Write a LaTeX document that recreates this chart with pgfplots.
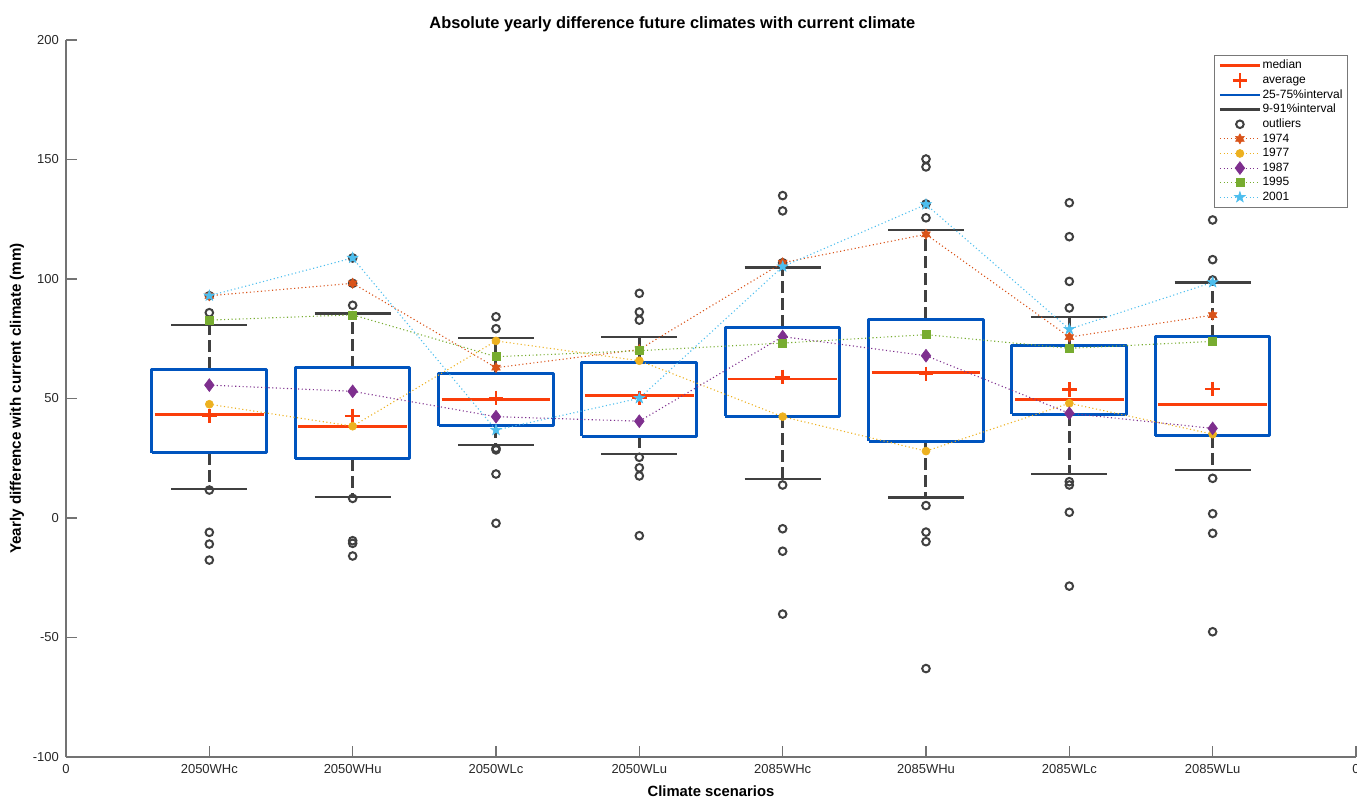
\documentclass[border=0pt]{standalone}
\usepackage{fontspec}
\setmainfont{Liberation Sans}
\usepackage{pgfplots}
\pgfplotsset{compat=1.18}

\definecolor{medred}{RGB}{250,62,10}
\definecolor{boxblue}{RGB}{0,84,190}
\definecolor{whiskgray}{RGB}{64,64,64}
\definecolor{axgray}{RGB}{115,115,115}
\definecolor{tickgray}{RGB}{40,40,40}
\definecolor{legborder}{RGB}{120,120,120}
\definecolor{cA}{RGB}{217,83,25}
\definecolor{cB}{RGB}{237,177,32}
\definecolor{cC}{RGB}{126,47,142}
\definecolor{cD}{RGB}{119,172,48}
\definecolor{cE}{RGB}{77,190,238}

\pgfdeclareplotmark{hexagram}{%
  \pgfpathmoveto{\pgfpointpolar{90}{\pgfplotmarksize}}%
  \pgfpathlineto{\pgfpointpolar{120}{0.577\pgfplotmarksize}}%
  \pgfpathlineto{\pgfpointpolar{150}{\pgfplotmarksize}}%
  \pgfpathlineto{\pgfpointpolar{180}{0.577\pgfplotmarksize}}%
  \pgfpathlineto{\pgfpointpolar{210}{\pgfplotmarksize}}%
  \pgfpathlineto{\pgfpointpolar{240}{0.577\pgfplotmarksize}}%
  \pgfpathlineto{\pgfpointpolar{270}{\pgfplotmarksize}}%
  \pgfpathlineto{\pgfpointpolar{300}{0.577\pgfplotmarksize}}%
  \pgfpathlineto{\pgfpointpolar{330}{\pgfplotmarksize}}%
  \pgfpathlineto{\pgfpointpolar{0}{0.577\pgfplotmarksize}}%
  \pgfpathlineto{\pgfpointpolar{30}{\pgfplotmarksize}}%
  \pgfpathlineto{\pgfpointpolar{60}{0.577\pgfplotmarksize}}%
  \pgfpathclose
  \pgfusepathqfillstroke
}
\pgfdeclareplotmark{pentagram}{%
  \pgfpathmoveto{\pgfpointpolar{90}{\pgfplotmarksize}}%
  \pgfpathlineto{\pgfpointpolar{126}{0.40\pgfplotmarksize}}%
  \pgfpathlineto{\pgfpointpolar{162}{\pgfplotmarksize}}%
  \pgfpathlineto{\pgfpointpolar{198}{0.40\pgfplotmarksize}}%
  \pgfpathlineto{\pgfpointpolar{234}{\pgfplotmarksize}}%
  \pgfpathlineto{\pgfpointpolar{270}{0.40\pgfplotmarksize}}%
  \pgfpathlineto{\pgfpointpolar{306}{\pgfplotmarksize}}%
  \pgfpathlineto{\pgfpointpolar{342}{0.40\pgfplotmarksize}}%
  \pgfpathlineto{\pgfpointpolar{18}{\pgfplotmarksize}}%
  \pgfpathlineto{\pgfpointpolar{54}{0.40\pgfplotmarksize}}%
  \pgfpathclose
  \pgfusepathqfillstroke
}

\tikzset{
  boxsty/.style={draw=boxblue, line width=1.5pt, line join=round, mark=none},
  medsty/.style={draw=medred, line width=1.4pt, mark=none},
  whdash/.style={draw=whiskgray, line width=1.5pt, dash pattern=on 6pt off 2.5pt, mark=none},
  whcap/.style={draw=whiskgray, line width=1.3pt, mark=none},
  yearline/.style={line width=0.55pt, dash pattern=on 0.55pt off 1.3pt},
}

\begin{document}
\begin{tikzpicture}
\begin{axis}[
  at={(0,0)}, anchor=south west,
  width=645pt, height=358.5pt, scale only axis,
  xmin=0, xmax=9, ymin=-100, ymax=200,
  unbounded coords=jump,
  axis lines=left, axis line style={-, draw=axgray, line width=0.9pt},
  tick align=inside, major tick length=5.5pt,
  tick style={draw=axgray, line width=0.7pt},
  xtick={0,1,2,3,4,5,6,7,8,9},
  xticklabels={0,2050WHc,2050WHu,2050WLc,2050WLu,2085WHc,2085WHu,2085WLc,2085WLu,0},
  ytick={-100,-50,0,50,100,150,200},
  yticklabels={-100,-50,0,50,100,150,200},
  ticklabel style={font=\fontsize{6.5}{7}\selectfont, text=tickgray},
  title={Absolute yearly difference future climates with current climate},
  title style={at={(axis description cs:0.47,1)}, anchor=base, yshift=0pt,
    font=\fontsize{8.2}{9}\selectfont\bfseries},
  xlabel={Climate scenarios},
  every axis x label/.style={at={(axis description cs:0.5,0)}, anchor=base, yshift=-19.5pt,
    font=\fontsize{7.4}{8}\selectfont\bfseries},
  ylabel={Yearly difference with current climate (mm)},
  every axis y label/.style={at={(axis description cs:-0.038,0.5)}, rotate=90, anchor=center,
    font=\fontsize{7.6}{8}\selectfont\bfseries},
  legend cell align=left,
  legend style={at={(0.994,0.979)}, anchor=north east, draw=legborder, line width=0.5pt,
    font=\fontsize{6}{7}\selectfont, inner xsep=2pt, inner ysep=1.5pt, row sep=0.2pt,
    nodes={inner sep=0.6pt, text height=4.6pt, text depth=1.3pt}},
  legend image code/.code={\draw[mark repeat=2,mark phase=2,#1]
    plot coordinates {(0pt,0pt) (10pt,0pt) (20pt,0pt)};},
]
% legend images for box elements
\addlegendimage{draw=medred, line width=1.3pt}
\addlegendentry{median}
\addlegendimage{only marks, mark=+, mark size=3.6pt, draw=medred, line width=1.2pt}
\addlegendentry{average}
\addlegendimage{draw=boxblue, line width=1.4pt}
\addlegendentry{25-75\%interval}
\addlegendimage{draw=whiskgray, line width=1.4pt}
\addlegendentry{9-91\%interval}
\addlegendimage{only marks, mark=o, mark size=1.9pt, draw=whiskgray, line width=1pt}
\addlegendentry{outliers}

% whiskers (dashed): quartile to 9/91 percentile
\addplot[forget plot, whdash] coordinates {
  (1,62.3) (1,80.8) (1,nan) (1,27.3) (1,12.1) (1,nan)
  (2,62.8) (2,85.6) (2,nan) (2,24.7) (2,8.8) (2,nan)
  (3,60.5) (3,75.3) (3,nan) (3,38.5) (3,30.5) (3,nan)
  (4,65.0) (4,75.7) (4,nan) (4,34.3) (4,26.8) (4,nan)
  (5,79.9) (5,104.7) (5,nan) (5,42.5) (5,16.3) (5,nan)
  (6,83.1) (6,120.5) (6,nan) (6,32.1) (6,8.5) (6,nan)
  (7,72.1) (7,84.1) (7,nan) (7,43.4) (7,18.4) (7,nan)
  (8,75.9) (8,98.6) (8,nan) (8,34.4) (8,20.1)
};
% whisker caps
\addplot[forget plot, whcap] coordinates {
  (0.735,80.8) (1.265,80.8) (1,nan) (0.735,12.1) (1.265,12.1) (1,nan)
  (1.735,85.6) (2.265,85.6) (2,nan) (1.735,8.8) (2.265,8.8) (2,nan)
  (2.735,75.3) (3.265,75.3) (3,nan) (2.735,30.5) (3.265,30.5) (3,nan)
  (3.735,75.7) (4.265,75.7) (4,nan) (3.735,26.8) (4.265,26.8) (4,nan)
  (4.735,104.7) (5.265,104.7) (5,nan) (4.735,16.3) (5.265,16.3) (5,nan)
  (5.735,120.5) (6.265,120.5) (6,nan) (5.735,8.5) (6.265,8.5) (6,nan)
  (6.735,84.1) (7.265,84.1) (7,nan) (6.735,18.4) (7.265,18.4) (7,nan)
  (7.735,98.6) (8.265,98.6) (8,nan) (7.735,20.1) (8.265,20.1)
};
% boxes (25-75%)
\addplot[forget plot, boxsty] coordinates {
  (0.6,27.3) (1.4,27.3) (1.4,62.3) (0.6,62.3) (0.6,27.3) (1,nan)
  (1.6,24.7) (2.4,24.7) (2.4,62.8) (1.6,62.8) (1.6,24.7) (2,nan)
  (2.6,38.5) (3.4,38.5) (3.4,60.5) (2.6,60.5) (2.6,38.5) (3,nan)
  (3.6,34.3) (4.4,34.3) (4.4,65.0) (3.6,65.0) (3.6,34.3) (4,nan)
  (4.6,42.5) (5.4,42.5) (5.4,79.9) (4.6,79.9) (4.6,42.5) (5,nan)
  (5.6,32.1) (6.4,32.1) (6.4,83.1) (5.6,83.1) (5.6,32.1) (6,nan)
  (6.6,43.4) (7.4,43.4) (7.4,72.1) (6.6,72.1) (6.6,43.4) (7,nan)
  (7.6,34.4) (8.4,34.4) (8.4,75.9) (7.6,75.9) (7.6,34.4)
};
% medians
\addplot[forget plot, medsty] coordinates {
  (0.62,43.4) (1.38,43.4) (1,nan)
  (1.62,38.4) (2.38,38.4) (2,nan)
  (2.62,49.7) (3.38,49.7) (3,nan)
  (3.62,51.2) (4.38,51.2) (4,nan)
  (4.62,58.2) (5.38,58.2) (5,nan)
  (5.62,60.8) (6.38,60.8) (6,nan)
  (6.62,49.5) (7.38,49.5) (7,nan)
  (7.62,47.6) (8.38,47.6)
};

% averages
\addplot[forget plot, only marks, mark=+, mark size=3.6pt, draw=medred, line width=1.2pt]
  coordinates {(1,42.8) (2,42.8) (3,50.3) (4,50.1) (5,59.1) (6,60.3) (7,53.8) (8,54.1)};

% outliers
\addplot[forget plot, only marks, mark=o, mark size=1.9pt, draw=whiskgray, line width=1pt]
  coordinates {
  (1,93.0) (1,85.9) (1,11.7) (1,-6.0) (1,-10.9) (1,-17.6)
  (2,108.8) (2,98.2) (2,89.0) (2,8.2) (2,-9.5) (2,-10.6) (2,-15.9)
  (3,84.2) (3,79.2) (3,29.2) (3,28.5) (3,18.4) (3,-2.2)
  (4,94.0) (4,86.2) (4,82.8) (4,25.4) (4,21.0) (4,17.6) (4,-7.4)
  (5,134.9) (5,128.5) (5,106.8) (5,13.8) (5,-4.5) (5,-13.9) (5,-40.2)
  (6,150.2) (6,146.9) (6,131.4) (6,125.6) (6,5.2) (6,-5.9) (6,-9.9) (6,-63.0)
  (7,131.9) (7,117.7) (7,99.0) (7,87.9) (7,15.2) (7,13.8) (7,2.4) (7,-28.5)
  (8,124.7) (8,108.1) (8,99.6) (8,16.6) (8,1.8) (8,-6.4) (8,-47.6)
  };

% years
\addplot[yearline, color=cA, mark=hexagram, mark size=2.5pt, mark options={solid, fill=cA, line width=0.3pt}]
  coordinates {(1,93.0) (2,98.2) (3,62.9) (4,70.5) (5,106.8) (6,118.7) (7,75.7) (8,84.9)};
\addlegendentry{1974}
\addplot[yearline, color=cB, mark=*, mark size=2pt, mark options={solid, fill=cB, line width=0.3pt}]
  coordinates {(1,47.6) (2,38.4) (3,74.1) (4,65.8) (5,42.4) (6,28.0) (7,48.0) (8,35.1)};
\addlegendentry{1977}
\addplot[yearline, color=cC, mark=diamond*, mark size=3.2pt, mark options={solid, fill=cC, line width=0.3pt}]
  coordinates {(1,55.6) (2,53.0) (3,42.4) (4,40.5) (5,75.9) (6,67.9) (7,43.8) (8,37.5)};
\addlegendentry{1987}
\addplot[yearline, color=cD, mark=square*, mark size=2pt, mark options={solid, fill=cD, line width=0.3pt}]
  coordinates {(1,82.8) (2,85.0) (3,67.5) (4,70.0) (5,73.2) (6,76.7) (7,71.0) (8,73.9)};
\addlegendentry{1995}
\addplot[yearline, color=cE, mark=pentagram, mark size=2.8pt, mark options={solid, fill=cE, line width=0.3pt}]
  coordinates {(1,93.0) (2,108.8) (3,36.8) (4,50.1) (5,105.2) (6,131.2) (7,79.0) (8,98.6)};
\addlegendentry{2001}
\end{axis}
\pgfresetboundingbox
\useasboundingbox (-33pt,-21.5pt) rectangle (645.5pt,378.5pt);
\end{tikzpicture}
\end{document}
